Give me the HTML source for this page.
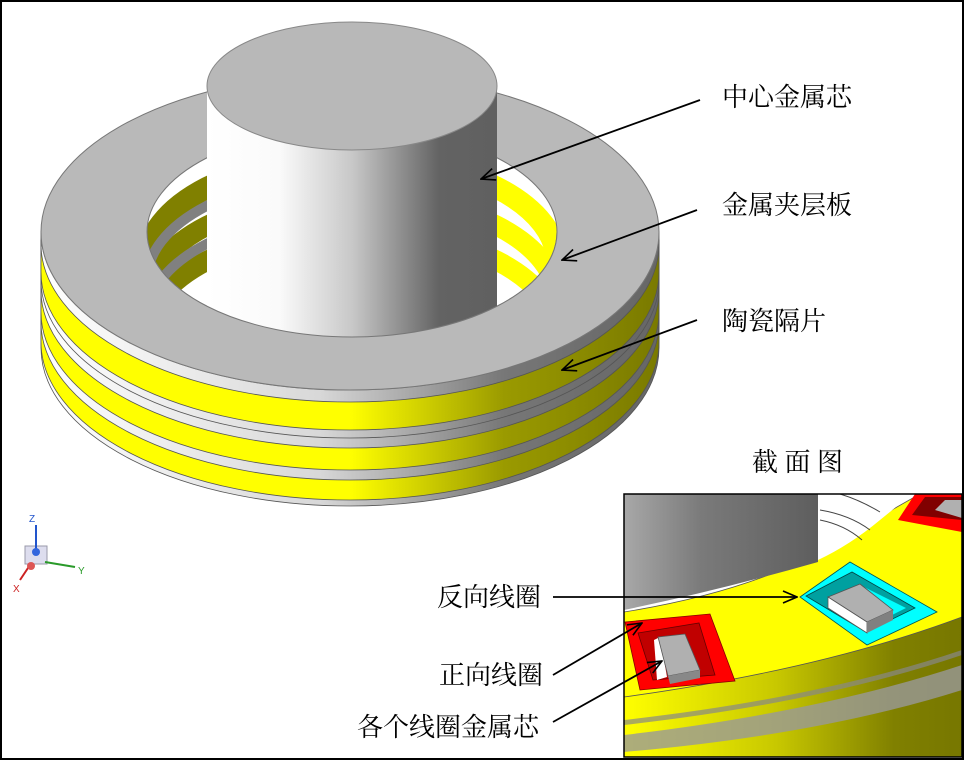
<!DOCTYPE html>
<html><head><meta charset="utf-8"><style>
body{margin:0;background:#fff}
svg{display:block}
text{font-family:"Liberation Serif","Noto Serif CJK SC",serif;font-size:26px;fill:#000}
</style></head><body>
<svg width="964" height="761" viewBox="0 0 964 761" xmlns="http://www.w3.org/2000/svg">
<defs>
<linearGradient id="gy" gradientUnits="userSpaceOnUse" x1="41" y1="0" x2="659" y2="0">
<stop offset="0" stop-color="#ffff00"/><stop offset="0.5" stop-color="#ffff00"/><stop offset="0.75" stop-color="#9a9a00"/><stop offset="1" stop-color="#7a7a00"/></linearGradient>
<linearGradient id="gg" gradientUnits="userSpaceOnUse" x1="41" y1="0" x2="659" y2="0">
<stop offset="0" stop-color="#ffffff"/><stop offset="0.45" stop-color="#d8d8d8"/><stop offset="0.75" stop-color="#777"/><stop offset="1" stop-color="#666"/></linearGradient>
<linearGradient id="gc" gradientUnits="userSpaceOnUse" x1="207" y1="0" x2="497" y2="0">
<stop offset="0" stop-color="#fff"/><stop offset="0.25" stop-color="#fafafa"/><stop offset="0.5" stop-color="#c8c8c8"/><stop offset="0.8" stop-color="#636363"/><stop offset="1" stop-color="#606060"/></linearGradient>
<linearGradient id="gh" gradientUnits="userSpaceOnUse" x1="147" y1="0" x2="557" y2="0">
<stop offset="0" stop-color="#808000"/><stop offset="0.3" stop-color="#808000"/><stop offset="0.7" stop-color="#ffff00"/><stop offset="1" stop-color="#ffff00"/></linearGradient>
<linearGradient id="gic" gradientUnits="userSpaceOnUse" x1="624" y1="0" x2="818" y2="0">
<stop offset="0" stop-color="#a8a8a8"/><stop offset="0.4" stop-color="#7a7a7a"/><stop offset="1" stop-color="#5e5e5e"/></linearGradient>
<linearGradient id="gis" gradientUnits="userSpaceOnUse" x1="624" y1="0" x2="962" y2="0">
<stop offset="0" stop-color="#ffff00"/><stop offset="0.45" stop-color="#c8c800"/><stop offset="0.8" stop-color="#808000"/><stop offset="1" stop-color="#777700"/></linearGradient>
<clipPath id="hole"><ellipse cx="352" cy="232" rx="205" ry="105"/></clipPath>
<clipPath id="ins"><rect x="624" y="494" width="338" height="263"/></clipPath>
<marker id="ar" markerWidth="16" markerHeight="14" refX="15" refY="7" orient="auto" markerUnits="userSpaceOnUse"><path d="M1,1 L15,7 L1,13" fill="none" stroke="#000" stroke-width="1.6"/></marker>
</defs>
<rect x="0" y="0" width="964" height="761" fill="#fff"/>
<g stroke="#555" stroke-width="0.8">
<path d="M41,232 L41,348 A309,158 0 0 0 659,348 L659,232 Z" fill="url(#gg)"/>
<path d="M41,232 L41,342 A309,158 0 0 0 659,342 L659,232 Z" fill="url(#gy)"/>
<path d="M41,232 L41,322 A309,158 0 0 0 659,322 L659,232 Z" fill="url(#gg)"/>
<path d="M41,232 L41,312 A309,158 0 0 0 659,312 L659,232 Z" fill="url(#gy)"/>
<path d="M41,232 L41,290 A309,158 0 0 0 659,290 L659,232 Z" fill="url(#gg)"/>
<path d="M41,232 L41,280 A309,158 0 0 0 659,280 L659,232 Z" fill="url(#gg)"/>
<path d="M41,232 L41,272 A309,158 0 0 0 659,272 L659,232 Z" fill="url(#gy)"/>
<path d="M41,232 L41,244 A309,158 0 0 0 659,244 L659,232 Z" fill="url(#gg)"/>
</g>
<ellipse cx="350" cy="232" rx="309" ry="158" fill="#b9b9b9" stroke="#777" stroke-width="1"/>
<g clip-path="url(#hole)">
<rect x="140" y="120" width="420" height="230" fill="#fff"/>
<g fill="none" stroke="url(#gh)">
<path d="M147,262 A205,105 0 0 1 557,262" stroke-width="22"/>
<path d="M147,300 A205,105 0 0 1 557,300" stroke-width="20"/>
<path d="M147,335 A205,105 0 0 1 557,335" stroke-width="20"/>
</g>
<g fill="none" stroke="#808080" stroke-width="10">
<path d="M147,280 A205,105 0 0 1 352,175"/>
<path d="M147,318 A205,105 0 0 1 352,213"/>
</g>
</g>
<ellipse cx="352" cy="232" rx="205" ry="105" fill="none" stroke="#777" stroke-width="1"/>
<rect x="207" y="85" width="290" height="270" fill="url(#gc)"/>
<ellipse cx="352" cy="86" rx="145" ry="64" fill="#b8b8b8" stroke="#888" stroke-width="1"/>
<path d="M41,232 A309,158 0 0 0 659,232 L557,232 A205,105 0 0 1 147,232 Z" fill="#b9b9b9"/>
<path d="M41,232 A309,158 0 0 0 659,232" fill="none" stroke="#777"/>
<path d="M557,232 A205,105 0 0 1 147,232" fill="none" stroke="#777"/>
<text x="722" y="106">中心金属芯</text>
<text x="722" y="214">金属夹层板</text>
<text x="722" y="330">陶瓷隔片</text>
<text x="752" y="471">截 面 图</text>
<g stroke="#000" stroke-width="1.8" marker-end="url(#ar)">
<line x1="700" y1="100" x2="481" y2="179"/>
<line x1="697" y1="210" x2="562" y2="260"/>
<line x1="697" y1="320" x2="562" y2="370"/>
</g>
<g clip-path="url(#ins)">
<rect x="624" y="494" width="338" height="263" fill="#fff"/>
<path d="M624,612 Q760,590 840,540 Q900,505 920,494 L962,494 L962,757 L624,757 Z" fill="#ffff00" stroke="#555" stroke-width="0.8"/>
<path d="M624,697 Q820,670 962,617 L962,757 L624,757 Z" fill="url(#gis)" stroke="#555" stroke-width="0.8"/>
<path d="M624,735 Q820,712 962,665 L962,690 Q820,735 624,752 Z" fill="#999" opacity="0.8"/>
<path d="M624,720 Q820,698 962,650 L962,655 Q820,703 624,725 Z" fill="#888" opacity="0.7"/>
<path d="M818,494 L818,560 Q850,545 880,520 Q905,500 910,494 Z" fill="#fff"/>
<g fill="none" stroke="#444" stroke-width="1"><path d="M820,510 Q850,515 870,530"/><path d="M820,520 Q845,525 862,540"/><path d="M840,494 Q860,500 880,512"/></g>
<path d="M624,494 L818,494 L818,562 Q720,590 624,610 Z" fill="url(#gic)"/>
<polygon points="625,622 710,614 735,681 640,690" fill="#ff0000" stroke="#800" stroke-width="0.8"/>
<polygon points="638,633 699,623 715,675 653,680" fill="#c00000" stroke="#600" stroke-width="0.8"/>
<polygon points="654,640 660,637 667,677 657,680" fill="#fff"/>
<polygon points="658,637 685,634 700,670 668,676" fill="#b0b0b0" stroke="#555" stroke-width="0.8"/>
<polygon points="668,676 700,670 700,678 670,684" fill="#888"/>
<polygon points="800,597 850,562 937,612 867,645" fill="#00ffff" stroke="#055" stroke-width="0.8"/>
<polygon points="806,596 852,572 915,608 866,632" fill="#00a0a0" stroke="#044" stroke-width="0.8"/>
<polygon points="832,600 862,586 906,608 870,626" fill="#00ffff"/>
<polygon points="828,597 860,584 893,610 867,622" fill="#b0b0b0" stroke="#555" stroke-width="0.8"/>
<polygon points="828,597 867,622 867,633 828,608" fill="#fff" stroke="#555" stroke-width="0.8"/>
<polygon points="867,622 893,610 893,620 867,633" fill="#808080"/>
<polygon points="898,520 915,494 962,494 962,532" fill="#ff0000"/>
<polygon points="912,515 925,497 962,497 962,520" fill="#800000"/>
<polygon points="935,510 945,500 962,500 962,518" fill="#b0b0b0"/>
</g>
<rect x="624" y="494" width="338" height="263" fill="none" stroke="#000" stroke-width="1.5"/>
<text x="437" y="606">反向线圈</text>
<text x="439" y="684">正向线圈</text>
<text x="357" y="736">各个线圈金属芯</text>
<g stroke="#000" stroke-width="1.8" marker-end="url(#ar)">
<line x1="553" y1="597" x2="797" y2="597"/>
<line x1="553" y1="675" x2="642" y2="623"/>
<line x1="553" y1="722" x2="662" y2="661"/>
</g>
<g>
<rect x="25" y="546" width="22" height="18" fill="#dde" stroke="#99a" stroke-width="1"/>
<line x1="36" y1="550" x2="36" y2="525" stroke="#2255cc" stroke-width="2"/>
<circle cx="36" cy="552" r="4" fill="#3366dd"/>
<line x1="45" y1="562" x2="75" y2="567" stroke="#2a9a2a" stroke-width="2"/>
<line x1="30" y1="565" x2="20" y2="580" stroke="#cc2222" stroke-width="2"/>
<circle cx="31" cy="566" r="4" fill="#dd5555"/>
<text x="29" y="522" style="font-family:'Liberation Sans',sans-serif;font-size:10px;fill:#2255cc">Z</text>
<text x="78" y="574" style="font-family:'Liberation Sans',sans-serif;font-size:10px;fill:#2a9a2a">Y</text>
<text x="13" y="592" style="font-family:'Liberation Sans',sans-serif;font-size:10px;fill:#cc2222">X</text>
</g>
<rect x="1" y="1" width="962" height="758" fill="none" stroke="#000" stroke-width="2"/>
</svg>
</body></html>
